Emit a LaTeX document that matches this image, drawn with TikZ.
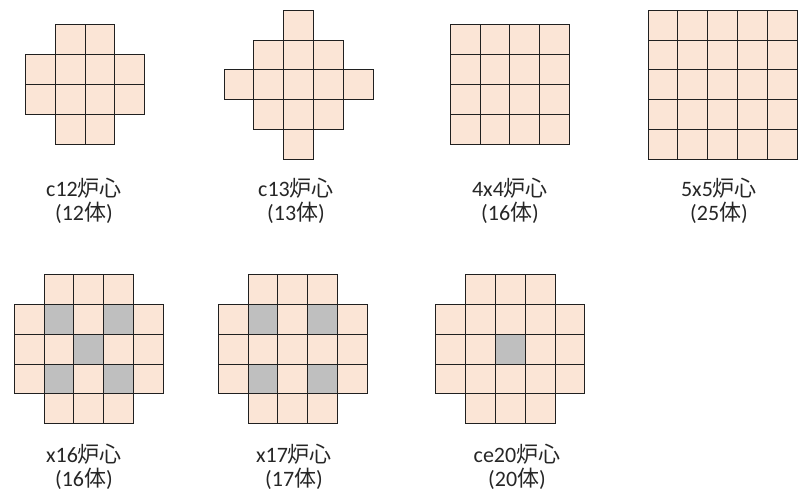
\documentclass[tikz,border=0pt]{standalone}
\usepackage{fontspec}
\setmainfont{Carlito}
\newfontfamily\cjk{Noto Sans CJK JP}
\definecolor{peach}{HTML}{FBE5D6}
\definecolor{coregray}{HTML}{BFBFBF}
\definecolor{cellline}{HTML}{202020}
\definecolor{labelgray}{HTML}{262626}
\newcommand\cellsz{29.8}
\newcommand\coregrid[4][cellbox]{\foreach \c/\r in {#4} \draw[#1] ({#2+\c*\cellsz},{#3+\r*\cellsz}) rectangle ++(\cellsz,\cellsz);}
\tikzset{
  cellbox/.style={draw=cellline, line width=1pt, fill=peach},
  graycell/.style={cellbox, fill=coregray},
  lbl/.style={align=center, text=labelgray, font=\fontsize{22}{24}\selectfont, inner sep=0pt}
}
\begin{document}
\begin{tikzpicture}[x=1pt,y=-1pt]
\useasboundingbox (0,0) rectangle (798,498);
% c12
\coregrid{25.5}{24.8}{1/0,2/0,0/1,1/1,2/1,3/1,0/2,1/2,2/2,3/2,1/3,2/3}
% c13
\coregrid{224}{10.3}{2/0,1/1,2/1,3/1,0/2,1/2,2/2,3/2,4/2,1/3,2/3,3/3,2/4}
% 4x4
\coregrid{450.2}{24.8}{0/0,1/0,2/0,3/0,0/1,1/1,2/1,3/1,0/2,1/2,2/2,3/2,0/3,1/3,2/3,3/3}
% 5x5
\coregrid{648}{10.3}{0/0,1/0,2/0,3/0,4/0,0/1,1/1,2/1,3/1,4/1,0/2,1/2,2/2,3/2,4/2,0/3,1/3,2/3,3/3,4/3,0/4,1/4,2/4,3/4,4/4}
% x16
\coregrid{14.3}{274.7}{1/0,2/0,3/0,0/1,1/1,2/1,3/1,4/1,0/2,1/2,2/2,3/2,4/2,0/3,1/3,2/3,3/3,4/3,1/4,2/4,3/4}
\coregrid[graycell]{14.3}{274.7}{1/1,3/1,2/2,1/3,3/3}
% x17
\coregrid{218.3}{274.7}{1/0,2/0,3/0,0/1,1/1,2/1,3/1,4/1,0/2,1/2,2/2,3/2,4/2,0/3,1/3,2/3,3/3,4/3,1/4,2/4,3/4}
\coregrid[graycell]{218.3}{274.7}{1/1,3/1,1/3,3/3}
% ce20
\coregrid{435.8}{274.7}{1/0,2/0,3/0,0/1,1/1,2/1,3/1,4/1,0/2,1/2,2/2,3/2,4/2,0/3,1/3,2/3,3/3,4/3,1/4,2/4,3/4}
\coregrid[graycell]{435.8}{274.7}{2/2}
% labels
\node[lbl] (lc12) at (84,200.5) {c12{\cjk 炉心}\\({12\cjk 体})};
\node[lbl] (lc13) at (296,200.5) {c13{\cjk 炉心}\\({13\cjk 体})};
\node[lbl] (l4x4) at (510,200.5) {4x4{\cjk 炉心}\\({16\cjk 体})};
\node[lbl] (l5x5) at (719,200.5) {5x5{\cjk 炉心}\\({25\cjk 体})};
\node[lbl] (lx16) at (84,467) {x16{\cjk 炉心}\\({16\cjk 体})};
\node[lbl] (lx17) at (294,467) {x17{\cjk 炉心}\\({17\cjk 体})};
\node[lbl] (lce20) at (517,467) {ce20{\cjk 炉心}\\({20\cjk 体})};
\end{tikzpicture}
\end{document}
